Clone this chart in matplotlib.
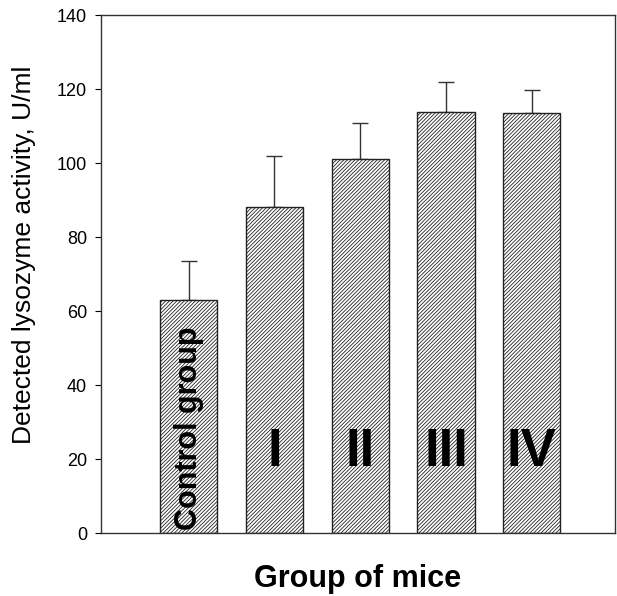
import numpy as np
import matplotlib
import matplotlib.pyplot as plt

matplotlib.use('agg')
plt.rcParams['font.family'] = ['Liberation Sans', 'DejaVu Sans']
plt.rcParams['hatch.color'] = '#555555'
plt.rcParams['hatch.linewidth'] = 0.6

groups = ['Control group', 'I', 'II', 'III', 'IV']
activity = [63, 88, 101, 113.7, 113.4]
err_up = [10.5, 14, 9.7, 8.2, 6.3]
yticks = [0, 20, 40, 60, 80, 100, 120, 140]

fig = plt.figure(figsize=(6.17, 5.96), dpi=100)
ax = fig.add_axes([0.1637, 0.1057, 0.8331, 0.8691])

x = np.arange(len(groups))
ax.bar(x, activity, width=0.665, color='white', edgecolor='#222222',
       linewidth=1.0, hatch='/////////', zorder=2)
ax.errorbar(x, activity, yerr=[np.zeros(len(x)), err_up], fmt='none',
            ecolor='#333333', elinewidth=1.0, capsize=6, capthick=1.0, zorder=1)

# group names written inside the bars
for i, name in enumerate(groups):
    if i == 0:
        ax.text(x[i], 0.8, name, rotation=90, ha='center', va='bottom',
                fontsize=22, fontweight='bold', zorder=3)
    else:
        ax.text(x[i], 22, name, ha='center', va='center',
                fontsize=38, fontweight='bold', zorder=3)

ax.set_xlim(-1.02, 4.97)
ax.set_ylim(0, 140)
ax.set_yticks(yticks)
ax.set_xticks([])
ax.tick_params(axis='y', labelsize=13, length=4, width=0.8, direction='out', pad=6)
for s in ax.spines.values():
    s.set_linewidth(1.0)
    s.set_color('#333333')

ax.set_ylabel('Detected lysozyme activity, U/ml', fontsize=19)
ax.yaxis.set_label_coords(-0.126, 0.537)
ax.set_xlabel('Group of mice', fontsize=22, fontweight='bold', labelpad=22)

fig.savefig('out.png', dpi=100)
